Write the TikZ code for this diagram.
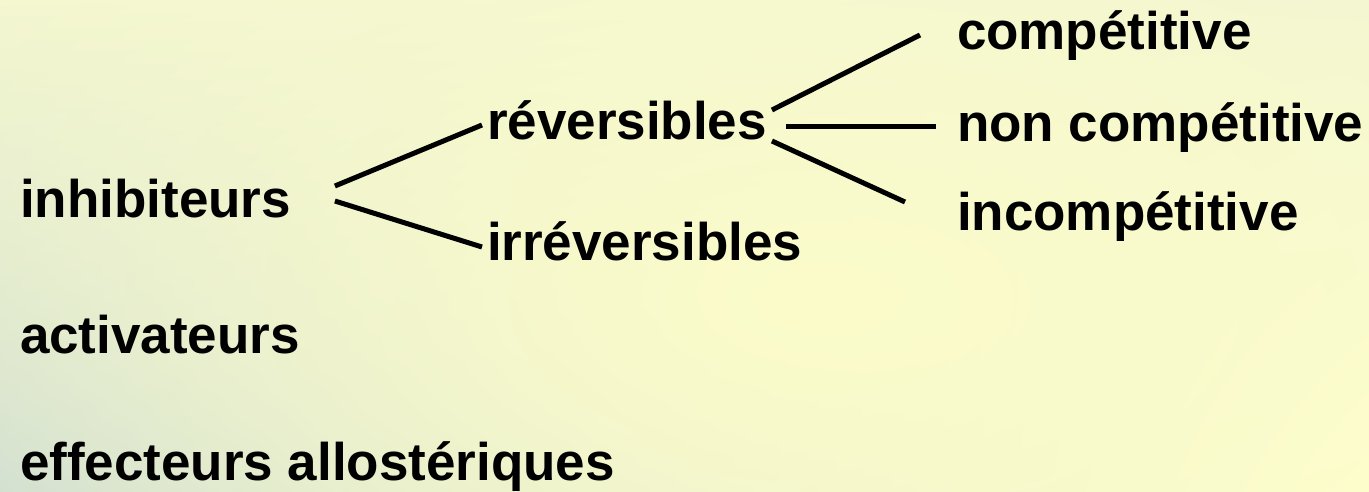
\documentclass[tikz,border=0pt]{standalone}
\usepackage{fontspec}
\setmainfont{Liberation Sans}
\usetikzlibrary{calc, shadings, fadings}
\definecolor{bgul}{RGB}{242,246,210}
\definecolor{bgur}{RGB}{238,243,213}
\definecolor{bgll}{RGB}{196,214,212}
\definecolor{bglr}{RGB}{255,255,206}
\definecolor{bgglow}{RGB}{252,252,202}
\tikzfading[name=glowfade, inner color=transparent!0, outer color=transparent!100]
\begin{document}
\begin{tikzpicture}[
  x=1pt, y=-1pt,
  term/.style={anchor=base west, inner sep=0pt, outer sep=0pt, font=\fontsize{53}{60}\selectfont\bfseries},
  branch/.style={line width=5pt, black},
]
\useasboundingbox (0,0) rectangle (1369,492);
% background
\shade[upper left=bgul, upper right=bgur, lower left=bgll, lower right=bglr] (0,0) rectangle (1369,492);
\begin{scope}
\clip (0,0) rectangle (1369,492);
\fill[bgglow, path fading=glowfade] (820,300) ellipse [x radius=1250, y radius=640];
\end{scope}
\node[term] (inh) at (20,218) {inhibiteurs};
\node[term] (act) at (20,353) {activateurs};
\node[term] (eff) at (20,480) {effecteurs allostériques};
\node[term] (rev) at (487,140) {réversibles};
\node[term] (irr) at (487,260) {irréversibles};
\node[term] (comp) at (957,50) {compétitive};
\node[term] (ncomp) at (957,142) {non compétitive};
\node[term] (incomp) at (957,230) {incompétitive};
\draw[branch] ($(inh.base east)+(44,-32)$)--($(rev.base west)+(-5,-15)$);
\draw[branch] ($(inh.base east)+(44,-17)$)--($(irr.base west)+(-5,-13)$);
\draw[branch] ($(rev.base east)+(5,-30)$)--($(comp.base west)+(-37,-15)$);
\draw[branch] ($(rev.base east)+(19,-13)$)--($(ncomp.base west)+(-21,-15)$);
\draw[branch] ($(rev.base east)+(5,1)$)--($(incomp.base west)+(-52,-28)$);
\end{tikzpicture}
\end{document}
